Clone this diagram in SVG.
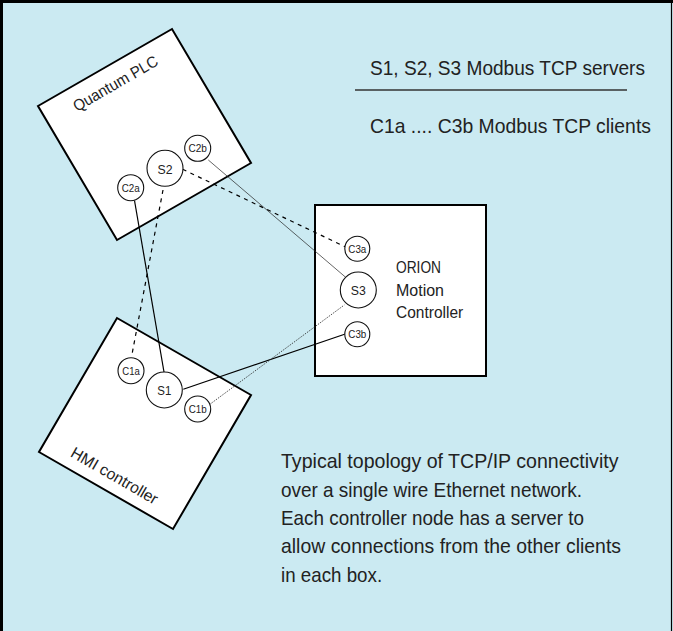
<svg xmlns="http://www.w3.org/2000/svg" width="673" height="631" viewBox="0 0 673 631">
<style>
.box{fill:#fff;stroke:#000;stroke-width:2}
.cir{fill:#fff;stroke:#111;stroke-width:1.1}
.t{font-family:"Liberation Sans",Arial,sans-serif;fill:#222}
.lbl{font-size:13px;text-anchor:middle}
.sm{font-size:10.5px;text-anchor:middle}
.big{font-size:21px}
.solid{stroke:#000;stroke-width:1.2;fill:none}
.thin{stroke:#222;stroke-width:0.7;fill:none}
.dash{stroke:#000;stroke-width:1.2;fill:none;stroke-dasharray:4 4.5}
.dot{stroke:#222;stroke-width:0.8;fill:none;stroke-dasharray:1.5 1.2}
</style>
<rect x="0" y="0" width="673" height="631" fill="#cbeaf2"/>
<g id="frame">
<line x1="1.5" y1="0" x2="1.5" y2="631" stroke="#000" stroke-width="3"/>
<line x1="0" y1="1.5" x2="673" y2="1.5" stroke="#000" stroke-width="3"/>
<line x1="671.5" y1="0" x2="671.5" y2="631" stroke="#000" stroke-width="1.2"/>
</g>
<g id="quantum-plc">
<polygon class="box" points="38,106 172,29 251,163 117,240"/>
<text class="t" font-size="16" transform="translate(77,112) rotate(-30) scale(0.85,1)" textLength="112" lengthAdjust="spacingAndGlyphs">Quantum PLC</text>
</g>
<g id="hmi-controller">
<polygon class="box" points="117,318 251,395 173,529 39,452"/>
<text class="t" font-size="16" transform="translate(69.5,456) rotate(30) scale(0.85,1)" textLength="115" lengthAdjust="spacingAndGlyphs">HMI controller</text>
</g>
<g id="orion">
<rect class="box" x="315" y="205" width="171" height="171"/>
<text class="t" font-size="17" transform="translate(396,273) scale(0.85,1)" textLength="53" lengthAdjust="spacingAndGlyphs">ORION</text>
<text class="t" font-size="17" transform="translate(396,296) scale(0.85,1)" textLength="56.5" lengthAdjust="spacingAndGlyphs">Motion</text>
<text class="t" font-size="17" transform="translate(396,318) scale(0.85,1)" textLength="79" lengthAdjust="spacingAndGlyphs">Controller</text>
</g>
<g id="connectors">
<line class="solid" x1="134.5" y1="200.5" x2="164" y2="372"/>
<line class="dash" x1="163" y1="190" x2="131.5" y2="357"/>
<line class="dash" x1="182.7" y1="169.3" x2="345" y2="246.7"/>
<line class="thin" x1="208.3" y1="160" x2="345.7" y2="277.3"/>
<line class="solid" x1="183.3" y1="389.3" x2="345.3" y2="334"/>
<line class="dot" x1="209.3" y1="404.7" x2="344.3" y2="305"/>
</g>
<g id="s2"><circle class="cir" cx="165" cy="168.3" r="18"/><text class="t lbl" x="165" y="173.5" textLength="15" lengthAdjust="spacingAndGlyphs">S2</text></g>
<g id="c2a"><circle class="cir" cx="130.7" cy="187.7" r="13"/><text class="t sm" x="130.7" y="191.5" textLength="18" lengthAdjust="spacingAndGlyphs">C2a</text></g>
<g id="c2b"><circle class="cir" cx="197.7" cy="148.3" r="13"/><text class="t sm" x="197.7" y="152.1" textLength="18.5" lengthAdjust="spacingAndGlyphs">C2b</text></g>
<g id="s1"><circle class="cir" cx="164.3" cy="390" r="18"/><text class="t lbl" x="164.3" y="395.2" textLength="14" lengthAdjust="spacingAndGlyphs">S1</text></g>
<g id="c1a"><circle class="cir" cx="131" cy="370.7" r="13"/><text class="t sm" x="131" y="374.5" textLength="17.5" lengthAdjust="spacingAndGlyphs">C1a</text></g>
<g id="c1b"><circle class="cir" cx="197.7" cy="409" r="13"/><text class="t sm" x="197.7" y="412.8" textLength="18" lengthAdjust="spacingAndGlyphs">C1b</text></g>
<g id="s3"><circle class="cir" cx="358.3" cy="290" r="18"/><text class="t lbl" x="358.3" y="295.2" textLength="15" lengthAdjust="spacingAndGlyphs">S3</text></g>
<g id="c3a"><circle class="cir" cx="357.3" cy="248.7" r="12.5"/><text class="t sm" x="357.3" y="252.5" textLength="18" lengthAdjust="spacingAndGlyphs">C3a</text></g>
<g id="c3b"><circle class="cir" cx="357.3" cy="334.3" r="12.5"/><text class="t sm" x="357.3" y="338.1" textLength="18" lengthAdjust="spacingAndGlyphs">C3b</text></g>
<g id="legend">
<text class="t big" transform="translate(370,75) scale(0.85,1)" textLength="323.5" lengthAdjust="spacingAndGlyphs">S1, S2, S3 Modbus TCP servers</text>
<line x1="355" y1="90" x2="627" y2="90" stroke="#333" stroke-width="1.3"/>
<text class="t big" transform="translate(370,133) scale(0.85,1)" textLength="330.5" lengthAdjust="spacingAndGlyphs">C1a .... C3b Modbus TCP clients</text>
</g>
<g id="caption">
<text class="t big" transform="translate(281,468.3) scale(0.85,1)" textLength="397" lengthAdjust="spacingAndGlyphs">Typical topology of TCP/IP connectivity</text>
<text class="t big" transform="translate(281,496.7) scale(0.85,1)" textLength="354" lengthAdjust="spacingAndGlyphs">over a single wire Ethernet network.</text>
<text class="t big" transform="translate(281,525) scale(0.85,1)" textLength="356.5" lengthAdjust="spacingAndGlyphs">Each controller node has a server to</text>
<text class="t big" transform="translate(281,553.3) scale(0.85,1)" textLength="400" lengthAdjust="spacingAndGlyphs">allow connections from the other clients</text>
<text class="t big" transform="translate(281,581.7) scale(0.85,1)" textLength="119" lengthAdjust="spacingAndGlyphs">in each box.</text>
</g>
</svg>
